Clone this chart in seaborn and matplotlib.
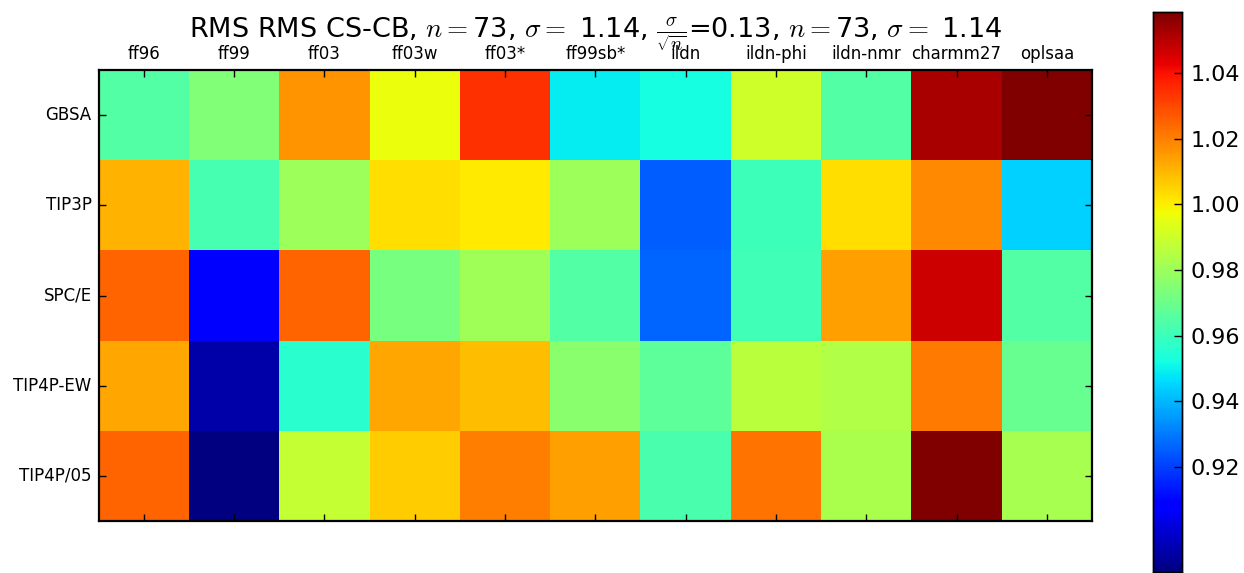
import numpy as np
import pandas as pd
import matplotlib
matplotlib.use("Agg")
import matplotlib.pyplot as plt
import seaborn as sns

plt.rcParams["font.family"] = ["DejaVu Sans"]
plt.rcParams["mathtext.fontset"] = "cm"

force_fields = ["ff96", "ff99", "ff03", "ff03w", "ff03*", "ff99sb*",
                "ildn", "ildn-phi", "ildn-nmr", "charmm27", "oplsaa"]
solvents = ["GBSA", "TIP3P", "SPC/E", "TIP4P-EW", "TIP4P/05"]

# RMS (CS-CB) per force field, one list per solvent model
rms_gbsa = [0.965, 0.974, 1.016, 0.996, 1.034, 0.949, 0.952, 0.990, 0.965, 1.052, 1.058]
rms_tip3p = [1.011, 0.962, 0.980, 1.003, 1.001, 0.980, 0.925, 0.960, 1.003, 1.018, 0.944]
rms_spce = [1.025, 0.908, 1.025, 0.972, 0.981, 0.965, 0.926, 0.961, 1.014, 1.047, 0.965]
rms_tip4pew = [1.013, 0.894, 0.956, 1.013, 1.009, 0.976, 0.967, 0.986, 0.984, 1.021, 0.969]
rms_tip4p05 = [1.025, 0.888, 0.988, 1.006, 1.020, 1.014, 0.963, 1.022, 0.983, 1.0586, 0.982]

cbar_ticks = [0.92, 0.94, 0.96, 0.98, 1.00, 1.02, 1.04]

table = pd.DataFrame(
    [rms_gbsa, rms_tip3p, rms_spce, rms_tip4pew, rms_tip4p05],
    index=solvents, columns=force_fields,
)

fig = plt.figure(figsize=(12.44, 5.73), dpi=100)
ax = fig.add_axes([0.0793, 0.0907, 0.7985, 0.787])
cax = fig.add_axes([0.9269, 0.0017, 0.0233, 0.9773])

sns.heatmap(table, ax=ax, cmap="jet", cbar_ax=cax, square=False,
            linewidths=0, vmin=min(table.min()), vmax=max(table.max()))

for side in ("top", "bottom", "left", "right"):
    ax.spines[side].set_visible(True)
    ax.spines[side].set_linewidth(1.6)
    ax.spines[side].set_color("black")

ax.tick_params(axis="x", top=True, bottom=True, labeltop=True, labelbottom=False,
               direction="in", length=5, width=1, labelsize=12, pad=5, rotation=0)
ax.tick_params(axis="y", left=True, right=True, labelleft=True, direction="in",
               length=5, width=1, labelsize=12, pad=5, rotation=0)
ax.set_xlabel("")
ax.set_ylabel("")

# Title placed in figure coordinates, centred over the heatmap
axpos = ax.get_position()
fig.text((axpos.x0 + axpos.x1) / 2, 0.9355,
         r"RMS RMS CS-CB, $n=$73, $\sigma=$ 1.14, $\frac{\sigma}{\sqrt{n}}$=0.13, "
         r"$n=$73, $\sigma=$ 1.14",
         fontsize=19.5, ha="center", va="baseline")

cax.set_yticks(cbar_ticks)
cax.set_yticklabels([f"{t:.2f}" for t in cbar_ticks])
cax.tick_params(axis="y", direction="in", length=6, width=1, labelsize=16, pad=6)
for side in cax.spines:
    cax.spines[side].set_visible(True)
    cax.spines[side].set_linewidth(1.0)
    cax.spines[side].set_color("black")

fig.savefig("out.png", dpi=100)
